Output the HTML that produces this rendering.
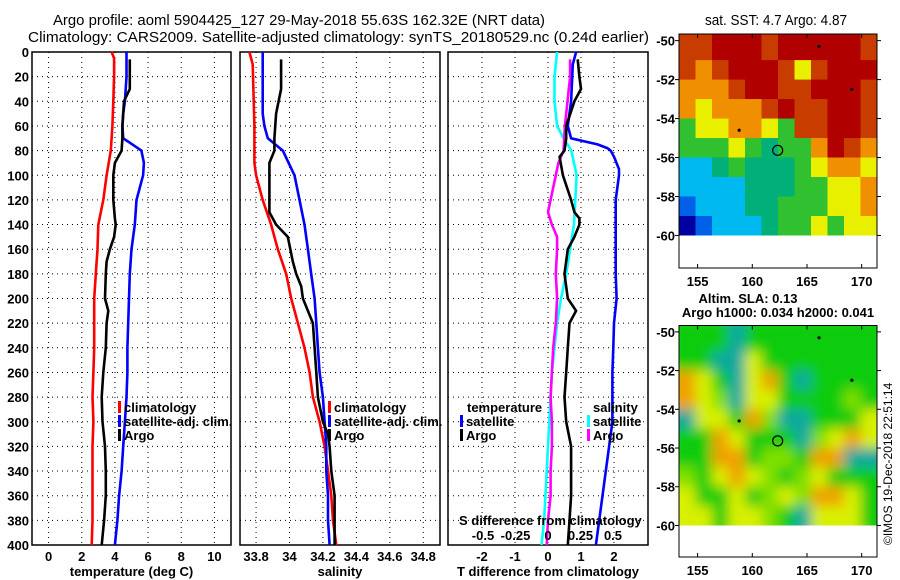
<!DOCTYPE html>
<html><head><meta charset="utf-8"><style>
body{margin:0;background:#fff;}
svg{display:block;font-family:"Liberation Sans",sans-serif;}
.tk{font-size:13px;font-weight:bold;fill:#000;}
.tt{font-size:15px;fill:#000;}
</style></head><body>
<svg id="fig" width="900" height="580" viewBox="0 0 900 580" xmlns="http://www.w3.org/2000/svg">
<rect width="900" height="580" fill="#fff"/>
<text class="tt" x="53" y="25" textLength="492" lengthAdjust="spacingAndGlyphs">Argo profile: aoml 5904425_127 29-May-2018 55.63S 162.32E (NRT data)</text>
<text class="tt" x="28" y="42" textLength="621" lengthAdjust="spacingAndGlyphs">Climatology: CARS2009. Satellite-adjusted climatology: synTS_20180529.nc (0.24d earlier)</text>
<text class="tt" x="705" y="25" textLength="142" lengthAdjust="spacingAndGlyphs">sat. SST: 4.7 Argo: 4.87</text>
<text class="tk" x="748" y="303" text-anchor="middle">Altim. SLA: 0.13</text>
<text class="tk" x="778" y="317" text-anchor="middle">Argo h1000: 0.034 h2000: 0.041</text>
<text x="892" y="545" transform="rotate(-90 892 545)" style="font-size:12px">©IMOS 19-Dec-2018 22:51:14</text>
</svg>
<script>
// ---- data ----
const depthTicks=[0,20,40,60,80,100,120,140,160,180,200,220,240,260,280,300,320,340,360,380,400];
const tempTicks=[0,2,4,6,8,10];
const salTicks=[33.8,34,34.2,34.4,34.6,34.8];
const salTickLabels=["33.8","34","34.2","34.4","34.6","34.8"];
const tdiffTicks=[-2,-1,0,1,2];
const sdiffTicks=[-0.5,-0.25,0,0.25,0.5];
const sdiffTickLabels=["-0.5","-0.25","0","0.25","0.5"];

const climTDepth=[0,5,20,40,60,80,100,120,140,160,180,200,220,240,260,280,300,320,340,360,380,400];
const climTVal=[3.8,3.95,3.95,3.9,3.85,3.75,3.5,3.3,3.0,2.95,2.85,2.75,2.75,2.75,2.7,2.65,2.7,2.65,2.65,2.65,2.65,2.6];
const satTDepth=[0,20,40,50,60,70,80,90,100,120,140,160,180,200,220,240,260,280,300,320,340,360,380,400];
const satTVal=[4.7,4.7,4.6,4.5,4.45,4.5,5.6,5.75,5.7,5.3,5.2,5.0,4.9,4.85,4.8,4.75,4.75,4.7,4.6,4.5,4.4,4.25,4.15,4.0];
const argoTDepth=[6,20,30,40,60,70,80,90,100,120,135,140,150,160,170,180,200,210,220,240,260,280,300,320,340,360,380,400];
const argoTVal=[4.9,4.9,4.9,4.55,4.45,4.45,4.4,4.0,3.9,3.9,4.0,4.05,3.95,3.7,3.5,3.45,3.4,3.6,3.5,3.45,3.3,3.2,3.25,3.4,3.45,3.45,3.35,3.2];

const climSDepth=[0,10,60,90,100,120,140,160,180,200,220,240,260,280,300,320,340,360,380,400];
const climSVal=[33.76,33.78,33.79,33.79,33.80,33.84,33.89,33.93,33.98,34.01,34.05,34.09,34.12,34.14,34.18,34.21,34.23,34.25,34.26,34.28];
const satSDepth=[0,50,60,70,80,100,120,140,160,180,200,220,240,260,280,300,320,340,360,380,400];
const satSVal=[33.84,33.84,33.85,33.87,33.96,34.03,34.06,34.09,34.11,34.13,34.15,34.16,34.17,34.18,34.2,34.21,34.22,34.22,34.23,34.23,34.24];
const argoSDepth=[6,30,50,70,80,90,100,130,140,150,170,180,190,200,220,240,260,280,300,310,320,340,360,380,400];
const argoSVal=[33.95,33.95,33.92,33.91,33.91,33.88,33.88,33.88,33.92,33.99,34.02,34.04,34.07,34.08,34.14,34.15,34.16,34.17,34.2,34.23,34.24,34.25,34.27,34.27,34.27];

const satTdDepth=[0,10,40,60,70,75,78,80,85,95,100,120,140,160,180,200,220,240,260,280,300,320,340,360,380,400];
const satTdVal=[0.85,0.75,0.7,0.6,0.7,1.5,1.8,1.9,2.0,2.15,2.15,2.05,2.05,2.05,2.05,2.08,2.0,1.98,1.95,1.95,1.95,1.85,1.75,1.65,1.55,1.45];
const argoTdDepth=[6,20,30,40,60,70,80,85,100,120,130,135,140,150,160,180,200,210,220,240,260,280,300,320,340,360,380,400];
const argoTdVal=[0.9,0.95,1.0,0.8,0.55,0.55,0.5,0.35,0.45,0.7,0.8,0.95,0.95,0.8,0.6,0.5,0.6,0.85,0.65,0.6,0.55,0.5,0.55,0.7,0.7,0.7,0.65,0.6];
const satSdDepth=[0,20,40,60,70,80,100,120,140,160,180,200,220,240,260,280,300,320,340,360,380,400];
const satSdVal=[0.07,0.05,0.05,0.07,0.12,0.18,0.22,0.21,0.2,0.17,0.14,0.1,0.07,0.05,0.03,0.02,0.01,0.0,-0.01,-0.02,-0.03,-0.05];
const argoSdDepth=[6,20,40,60,80,90,100,120,130,140,150,160,180,200,220,240,260,280,300,320,340,360,380,400];
const argoSdVal=[0.17,0.17,0.15,0.13,0.12,0.08,0.06,0.02,0.0,0.03,0.07,0.07,0.06,0.07,0.06,0.04,0.03,0.02,0.03,0.03,0.02,0.02,0.0,-0.01];

const lonTicks=[155,160,165,170];
const latTicks=[-50,-52,-54,-56,-58,-60];
const sstRows=["rrRRRrRRRRRr","rorRRRryrRRR","ooorRRrrRRRr","oyooorRrrRRr","gyyooygrrRRr","gggygtggoRro","cctgtttgyooy","cccctttggyyoy".slice(0,12),"bcccttgggyyo","dbccctggygyy"];
const slaRows=["GGGTGGGGGGGG","GGTTYGGGGGGG","OYGTYOGTGGGG","OYLTYYGGGGLG","TYYGOLTTGGGY","GGOYGGGTLYOY","GGOOGLLGOOTT","LGYOYLGLYGGG","YGGYGLYLOOYG","YYGYYLGTYYYG"];
const argoLon=162.32, argoLat=-55.63;

// ---- drawing ----
const NS="http://www.w3.org/2000/svg";
const svg=document.getElementById('fig');
function el(tag,attrs,parent){const e=document.createElementNS(NS,tag);for(const k in attrs)e.setAttribute(k,attrs[k]);(parent||svg).appendChild(e);return e;}
const Y0=52,Y1=545;
function yD(d){return Y0+(Y1-Y0)*d/400;}

function panel(x0,x1,vmin,vmax,ticks,labels,name,xlabel){
  const g=el('g',{});
  
  
  const xs=v=>x0+(x1-x0)*(v-vmin)/(vmax-vmin);
  depthTicks.forEach(d=>{
    if(d>0&&d<400){const l=el('line',{x1:x0,x2:x1,y1:yD(d),y2:yD(d),stroke:'#000','stroke-width':1,'stroke-dasharray':'1 4'},g);
    
    }
  });
  ticks.forEach((v,i)=>{
    const x=xs(v);
    const l=el('line',{x1:x,x2:x,y1:Y0,y2:Y1,stroke:'#000','stroke-width':1,'stroke-dasharray':'1 4'},g);
    
    
    const t=el('text',{x:x,y:Y1+16,'text-anchor':'middle',class:'tk'},g);
    t.textContent=labels?labels[i]:String(v);
    
    
  });
  const r=el('rect',{x:x0,y:Y0,width:x1-x0,height:Y1-Y0,fill:'none',stroke:'#000','stroke-width':1.5},g);
  
  
  const xl=el('text',{x:(x0+x1)/2,y:Y1+31,'text-anchor':'middle',class:'tk'},g);
  xl.textContent=xlabel;
  
  
  return xs;
}
function series(xs,depths,vals,color,name){
  const pts=depths.map((d,i)=>xs(vals[i]).toFixed(1)+','+yD(d).toFixed(1)).join(' ');
  const p=el('polyline',{points:pts,fill:'none',stroke:color,'stroke-width':2.6,'stroke-linejoin':'round'});
  
  
}
function legend(x,y,color,label,name){
  const g=el('g',{});
  
  
  el('rect',{x:x,y:y-11,width:3,height:12,fill:color},g);
  const t=el('text',{x:x+6,y:y,class:'tk'},g);
  t.textContent=label;
}

depthTicks.forEach(d=>{
  const t=el('text',{x:29,y:yD(d)+5,'text-anchor':'end',class:'tk'});
  t.textContent=String(d);
  
  
});

const xT=panel(32,231,-1,11,tempTicks,null,'temperature-panel','temperature (deg C)');
series(xT,climTDepth,climTVal,'#f00','temp-climatology-line');
series(xT,satTDepth,satTVal,'#00f','temp-satellite-line');
series(xT,argoTDepth,argoTVal,'#000','temp-argo-line');
legend(118,412,'#f00','climatology','legend-climatology');
legend(118,426,'#00f','satellite-adj. clim.','legend-satellite-adj');
legend(118,440,'#000','Argo','legend-argo');

const xS=panel(240,440,33.704,34.9,salTicks,salTickLabels,'salinity-panel','salinity');
series(xS,climSDepth,climSVal,'#f00','sal-climatology-line');
series(xS,satSDepth,satSVal,'#00f','sal-satellite-line');
series(xS,argoSDepth,argoSVal,'#000','sal-argo-line');
legend(328,412,'#f00','climatology','legend-climatology-sal');
legend(328,426,'#00f','satellite-adj. clim.','legend-satellite-adj-sal');
legend(328,440,'#000','Argo','legend-argo-sal');

const xTd=panel(448,648,-3.03,3.03,tdiffTicks,null,'difference-panel','T difference from climatology');
const xSd=v=>548+v*(65/0.5);
series(xSd,satSdDepth,satSdVal,'#0ff','sdiff-satellite-line');
series(xSd,argoSdDepth,argoSdVal,'#f0f','sdiff-argo-line');
series(xTd,satTdDepth,satTdVal,'#00f','tdiff-satellite-line');
series(xTd,argoTdDepth,argoTdVal,'#000','tdiff-argo-line');
(function(){
  const t=el('text',{x:467,y:412,class:'tk'});t.textContent='temperature';
  
  
  const s=el('text',{x:593,y:412,class:'tk'});s.textContent='salinity';
  
  
})();
legend(460,426,'#00f','satellite','legend-tdiff-satellite');
legend(460,440,'#000','Argo','legend-tdiff-argo');
legend(587,426,'#0ff','satellite','legend-sdiff-satellite');
legend(587,440,'#f0f','Argo','legend-sdiff-argo');
(function(){
  const t=el('text',{x:459,y:525,class:'tk'});t.textContent='S difference from climatology';
  
  
  sdiffTicks.forEach((v,i)=>{
    const l=el('text',{x:xSd(v),y:540,'text-anchor':'middle',class:'tk'});
    l.textContent=sdiffTickLabels[i];
    
    
  });
})();

// maps
const sstCol={R:'#b00000',r:'#c83c00',o:'#f09000',y:'#e8f000',g:'#30c030',t:'#00b078',c:'#00b8f0',b:'#0060e8',d:'#0000a0'};
const slaCol={G:'#10cc10',Y:'#d8f000',O:'#f0a000',T:'#10a8a0',L:'#80e000'};
function map(top,bottom,latTop,latBot,rows,cols,name,blur){
  const x0=679,x1=877,lonMin=153.3,lonMax=171.4;
  const xs=lon=>x0+(x1-x0)*(lon-lonMin)/(lonMax-lonMin);
  const ys=lat=>top+(bottom-top)*(latTop-lat)/(latTop-latBot);
  const g=el('g',{});
  
  
  const cid='clip'+name;
  const cp=el('clipPath',{id:cid},g);
  el('rect',{x:x0,y:top,width:x1-x0,height:ys(-60)-top},cp);
  const cg=el('g',{'clip-path':'url(#'+cid+')'},g);
  const inner=el('g',blur?{filter:'url(#bl)'}:{},cg);
  const nR=rows.length,nC=rows[0].length;
  const dLon=(lonMax-lonMin)/nC;
  rows.forEach((row,ri)=>{
    for(let ci=0;ci<nC;ci++){
      const la0=-50-ri, la1=-51-ri;
      const yTop=ri===0?top-10:ys(la0);
      const c=el('rect',{x:xs(lonMin+ci*dLon)-(blur&&ci===0?10:0),y:yTop,width:dLon*(x1-x0)/(lonMax-lonMin)+1+(blur&&(ci===0||ci===nC-1)?10:0),height:ys(la1)-yTop+1+(blur&&ri===nR-1?10:0),fill:cols[row[ci]]||'#10cc10'},inner);
      
      
    }
  });
  const m=el('circle',{cx:xs(argoLon),cy:ys(argoLat),r:5,fill:'none',stroke:'#000','stroke-width':1.2},g);
  
  
  [[166.1,-50.3],[169.1,-52.5],[158.8,-54.6]].forEach(p=>{
    const d=el('circle',{cx:xs(p[0]),cy:ys(p[1]),r:1.6,fill:'#000'},g);
    
    
  });
  const fr=el('rect',{x:x0,y:top,width:x1-x0,height:bottom-top,fill:'none',stroke:'#000','stroke-width':1},g);
  
  
  lonTicks.forEach(lon=>{
    el('line',{x1:xs(lon),x2:xs(lon),y1:top,y2:top+4,stroke:'#000'},g);
    el('line',{x1:xs(lon),x2:xs(lon),y1:bottom,y2:bottom-4,stroke:'#000'},g);
    const t=el('text',{x:xs(lon),y:bottom+18,'text-anchor':'middle',class:'tk'},g);
    t.textContent=String(lon);
    
    
  });
  latTicks.forEach(lat=>{
    el('line',{x1:x0,x2:x0-4,y1:ys(lat),y2:ys(lat),stroke:'#000'},g);
    el('line',{x1:x1,x2:x1+4,y1:ys(lat),y2:ys(lat),stroke:'#000'},g);
    const t=el('text',{x:x0-4,y:ys(lat)+5,'text-anchor':'end',class:'tk'},g);
    t.textContent=String(lat);
    
    
  });
}
const defs=el('defs',{});
const f=el('filter',{id:'bl',x:'-10%',y:'-10%',width:'120%',height:'120%'},defs);
el('feGaussianBlur',{stdDeviation:6},f);
map(34,268,-49.66,-61.67,sstRows,sstCol,'sst-map',false);
map(325.5,557,-49.67,-61.63,slaRows,slaCol,'sla-map',true);
</script>
</body></html>
